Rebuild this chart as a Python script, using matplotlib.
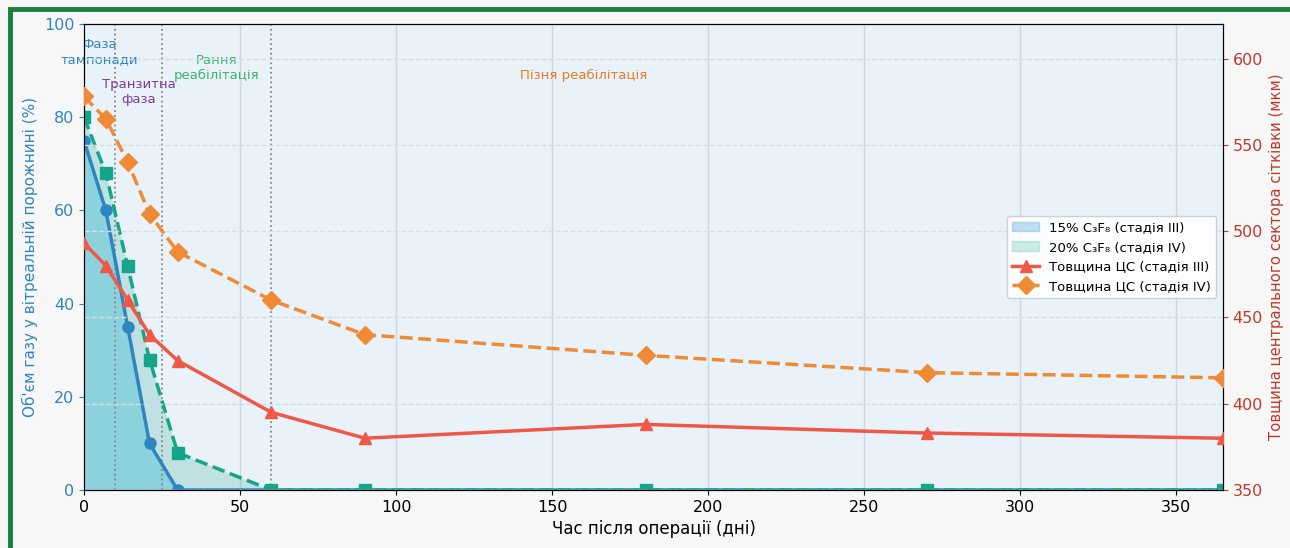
import matplotlib.pyplot as plt
from matplotlib.patches import Rectangle, Patch
from matplotlib.lines import Line2D

days = [0, 7, 14, 21, 30, 60, 90, 180, 270, 365]
gas_15 = [75, 60, 35, 10, 0, 0, 0, 0, 0, 0]
gas_20 = [80, 68, 48, 28, 8, 0, 0, 0, 0, 0]
cst_3 = [493, 480, 460, 440, 425, 395, 380, 388, 383, 380]
cst_4 = [578, 565, 540, 510, 488, 460, 440, 428, 418, 415]

phase_bounds = [10, 25, 60]
phase_names = ["Фаза\nтампонади", "Транзитна\nфаза", "Рання\nреабілітація", "Пізня реабілітація"]
phase_x = [5, 17.5, 42.5, 160]
phase_y = [94, 85.5, 90.5, 89]
phase_colors = ["#2e86c1", "#7d3c98", "#3cb371", "#e67e22"]

c_blue = "#2e86c1"
c_teal = "#17a589"
c_red = "#ef5846"
c_orange = "#ef8a35"

fig = plt.figure(figsize=(12.9, 5.48), dpi=100, facecolor="#f7f7f7")
fig.patches.append(Rectangle((10 / 1290, -0.1), 1.2, 1.1 - 9 / 548, transform=fig.transFigure,
                             fill=False, edgecolor="#16803c", linewidth=3.5, zorder=0))

ax = fig.add_axes([84 / 1290, 58 / 548, 1139 / 1290, 466 / 548])
ax.set_facecolor("#e9f1f9")
ax2 = ax.twinx()

ax.fill_between(days, gas_20, color=c_teal, alpha=0.2, linewidth=0)
ax.fill_between(days, gas_15, color="#3abad5", alpha=0.38, linewidth=0)
lines = ax.plot(days, gas_15, color=c_blue, lw=2.5, marker="o", ms=8, zorder=5)
lines += ax.plot(days, gas_20, color=c_teal, lw=2.5, ls="--", marker="s", ms=8, zorder=5)

for b in phase_bounds:
    ax.axvline(b, color="#888888", ls=":", lw=1.3, zorder=1)
for name, x, y, c in zip(phase_names, phase_x, phase_y, phase_colors):
    ax.text(x, y, name, color=c, fontsize=9.5, ha="center", va="center", zorder=6)

ax.set_xlim(0, 365)
ax.set_ylim(0, 100)
ax.grid(axis="x", color="#c8d0da", lw=1, alpha=0.8)
ax.set_axisbelow(True)
ax.set_xlabel("Час після операції (дні)", fontsize=12)
ax.set_ylabel("Об'єм газу у вітреальній порожнині (%)", color=c_blue, fontsize=11)
ax.tick_params(axis="y", colors=c_blue, labelsize=11.5)
ax.tick_params(axis="x", labelsize=11.5)

lines += ax2.plot(days, cst_3, color=c_red, lw=2.5, marker="^", ms=9, zorder=5)
lines += ax2.plot(days, cst_4, color=c_orange, lw=2.5, ls="--", marker="D", ms=9, zorder=5)
ax2.set_ylim(350, 620)
ax2.grid(axis="y", color="#d6dce3", ls="--", lw=1)
ax2.set_ylabel("Товщина центрального сектора сітківки (мкм)", color="#c0392b", fontsize=10.7)
ax2.tick_params(axis="y", colors="#c0392b", labelsize=11.5)

# markers on the axis edges are cut by the plot area
for ln in lines:
    ln.set_clip_path(ax.patch)

handles = [
    Patch(facecolor="#3498db", alpha=0.3, edgecolor="#3498db", label="15% C₃F₈ (стадія III)"),
    Patch(facecolor=c_teal, alpha=0.2, edgecolor=c_teal, label="20% C₃F₈ (стадія IV)"),
    Line2D([], [], color=c_red, lw=2.5, marker="^", ms=9, label="Товщина ЦС (стадія III)"),
    Line2D([], [], color=c_orange, lw=2.5, ls="--", marker="D", ms=9, label="Товщина ЦС (стадія IV)"),
]
ax2.legend(handles=handles, loc="center right", fontsize=9.5, framealpha=0.9)

fig.savefig("out.png", dpi=100, facecolor=fig.get_facecolor())
